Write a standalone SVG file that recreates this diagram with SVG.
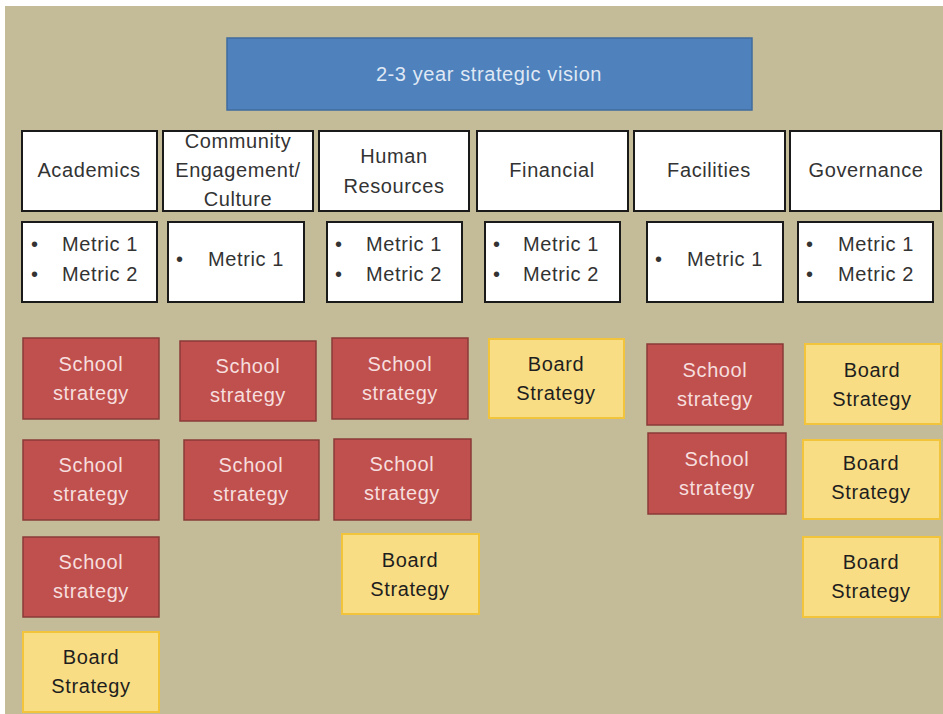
<svg xmlns="http://www.w3.org/2000/svg" width="943" height="714" viewBox="0 0 943 714">
<style>
text{font-family:"Liberation Sans",Arial,sans-serif;font-size:20px;text-anchor:middle;letter-spacing:0.6px}
.bg{fill:#c4bc98}
.vision rect{fill:#4f81bd;stroke:#3f6b9e;stroke-width:1.5}
.vision text{fill:#dfe8f4}
.cat rect,.met rect{fill:#ffffff;stroke:#1a1a1a;stroke-width:2}
.cat text,.met text{fill:#333333}
.met text.b{text-anchor:start}
.school rect{fill:#c0504d;stroke:#8a3a38;stroke-width:1.5}
.school text{fill:#f6dede}
.board rect{fill:#f8dd84;stroke:#f2c43c;stroke-width:2}
.board text{fill:#1e1e1e}
</style>
<rect x="0" y="0" width="943" height="714" fill="#ffffff"/>
<rect class="bg" x="5" y="6" width="938" height="708"/>

<g id="vision" class="vision"><rect x="227" y="38" width="525" height="72"/><text x="489" y="81">2-3 year strategic vision</text></g>

<g id="cat-academics" class="cat"><rect x="22" y="131" width="135" height="80"/><text x="89" y="177">Academics</text></g>
<g id="cat-community" class="cat"><rect x="163" y="131" width="150" height="80"/><text x="238" y="148">Community</text><text x="238" y="177">Engagement/</text><text x="238" y="206">Culture</text></g>
<g id="cat-human" class="cat"><rect x="319" y="131" width="150" height="80"/><text x="394" y="163">Human</text><text x="394" y="193">Resources</text></g>
<g id="cat-financial" class="cat"><rect x="477" y="131" width="151" height="80"/><text x="552" y="177">Financial</text></g>
<g id="cat-facilities" class="cat"><rect x="634" y="131" width="151" height="80"/><text x="709" y="177">Facilities</text></g>
<g id="cat-governance" class="cat"><rect x="790" y="131" width="151" height="80"/><text x="866" y="177">Governance</text></g>

<g id="met-academics" class="met"><rect x="22" y="222" width="135" height="80"/><text class="b" x="31" y="251">•</text><text class="b" x="62" y="251">Metric 1</text><text class="b" x="31" y="281">•</text><text class="b" x="62" y="281">Metric 2</text></g>
<g id="met-community" class="met"><rect x="168" y="222" width="136" height="80"/><text class="b" x="176" y="266">•</text><text class="b" x="208" y="266">Metric 1</text></g>
<g id="met-human" class="met"><rect x="327" y="222" width="135" height="80"/><text class="b" x="335" y="251">•</text><text class="b" x="366" y="251">Metric 1</text><text class="b" x="335" y="281">•</text><text class="b" x="366" y="281">Metric 2</text></g>
<g id="met-financial" class="met"><rect x="485" y="222" width="135" height="80"/><text class="b" x="493" y="251">•</text><text class="b" x="523" y="251">Metric 1</text><text class="b" x="493" y="281">•</text><text class="b" x="523" y="281">Metric 2</text></g>
<g id="met-facilities" class="met"><rect x="647" y="222" width="136" height="80"/><text class="b" x="655" y="266">•</text><text class="b" x="687" y="266">Metric 1</text></g>
<g id="met-governance" class="met"><rect x="798" y="222" width="135" height="80"/><text class="b" x="806" y="251">•</text><text class="b" x="838" y="251">Metric 1</text><text class="b" x="806" y="281">•</text><text class="b" x="838" y="281">Metric 2</text></g>

<g id="aca-s1" class="school"><rect x="23" y="338" width="136" height="81"/><text x="91" y="371">School</text><text x="91" y="400">strategy</text></g>
<g id="aca-s2" class="school"><rect x="23" y="440" width="136" height="80"/><text x="91" y="472">School</text><text x="91" y="501">strategy</text></g>
<g id="aca-s3" class="school"><rect x="23" y="537" width="136" height="80"/><text x="91" y="569">School</text><text x="91" y="598">strategy</text></g>
<g id="aca-b1" class="board"><rect x="23" y="632" width="136" height="80"/><text x="91" y="664">Board</text><text x="91" y="693">Strategy</text></g>

<g id="com-s1" class="school"><rect x="180" y="341" width="136" height="80"/><text x="248" y="373">School</text><text x="248" y="402">strategy</text></g>
<g id="com-s2" class="school"><rect x="184" y="440" width="135" height="80"/><text x="251" y="472">School</text><text x="251" y="501">strategy</text></g>

<g id="hum-s1" class="school"><rect x="332" y="338" width="136" height="81"/><text x="400" y="371">School</text><text x="400" y="400">strategy</text></g>
<g id="hum-s2" class="school"><rect x="334" y="439" width="137" height="81"/><text x="402" y="471">School</text><text x="402" y="500">strategy</text></g>
<g id="hum-b1" class="board"><rect x="342" y="534" width="137" height="80"/><text x="410" y="567">Board</text><text x="410" y="596">Strategy</text></g>

<g id="fin-b1" class="board"><rect x="489" y="339" width="135" height="79"/><text x="556" y="371">Board</text><text x="556" y="400">Strategy</text></g>

<g id="fac-s1" class="school"><rect x="647" y="344" width="136" height="81"/><text x="715" y="377">School</text><text x="715" y="406">strategy</text></g>
<g id="fac-s2" class="school"><rect x="648" y="433" width="138" height="81"/><text x="717" y="466">School</text><text x="717" y="495">strategy</text></g>

<g id="gov-b1" class="board"><rect x="805" y="344" width="136" height="80"/><text x="872" y="377">Board</text><text x="872" y="406">Strategy</text></g>
<g id="gov-b2" class="board"><rect x="803" y="440" width="137" height="79"/><text x="871" y="470">Board</text><text x="871" y="499">Strategy</text></g>
<g id="gov-b3" class="board"><rect x="803" y="537" width="137" height="80"/><text x="871" y="569">Board</text><text x="871" y="598">Strategy</text></g>
</svg>
